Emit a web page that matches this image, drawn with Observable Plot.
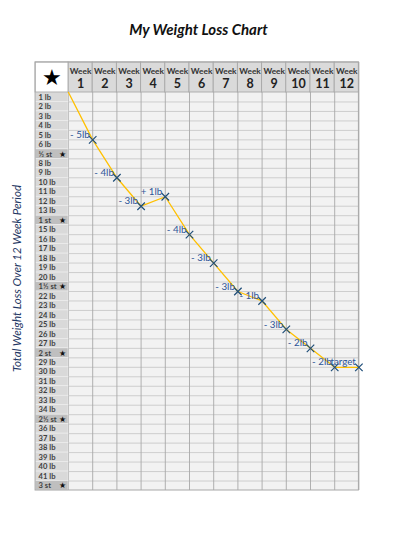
<!DOCTYPE html>
<html>
<head>
<meta charset="utf-8">
<script src="https://cdn.jsdelivr.net/npm/d3@7"></script>
<script src="https://cdn.jsdelivr.net/npm/@observablehq/plot@0.6"></script>
<style>
  body { margin: 0; background: #fff; }
</style>
</head>
<body>
<div id="chart"></div>
<script>
const title = "My Weight Loss Chart";
const sideLabel = "Total Weight Loss Over 12 Week Period";
const weeks = [1, 2, 3, 4, 5, 6, 7, 8, 9, 10, 11, 12];
const cumulativeLoss = [5, 9, 12, 11, 15, 18, 21, 22, 25, 27, 29, 29];
const changeLabels = ["- 5lb", "- 4lb", "- 3lb", "+ 1lb", "- 4lb", "- 3lb", "- 3lb", "- 1lb", "- 3lb", "- 2lb", "- 2lb", "target"];
const rowLabels = [
  "1 lb", "2 lb", "3 lb", "4 lb", "5 lb", "6 lb", "½ st",
  "8 lb", "9 lb", "10 lb", "11 lb", "12 lb", "13 lb", "1 st",
  "15 lb", "16 lb", "17 lb", "18 lb", "19 lb", "20 lb", "1½ st",
  "22 lb", "23 lb", "24 lb", "25 lb", "26 lb", "27 lb", "2 st",
  "29 lb", "30 lb", "31 lb", "32 lb", "33 lb", "34 lb", "2½ st",
  "36 lb", "37 lb", "38 lb", "39 lb", "40 lb", "41 lb", "3 st"
];
const stoneRows = [7, 14, 21, 28, 35, 42];

const rows = rowLabels.map((label, i) => ({row: i + 1, label, stone: stoneRows.includes(i + 1)}));
const points = weeks.map((w, i) => ({week: w, loss: cumulativeLoss[i], label: changeLabels[i]}));
const lineData = [{week: 0, loss: 0}, ...points];

const LABEL_W = 1.36;   // label column width in week units
const HEADER_H = 3.17;  // header height in row units
const gridLine = "#a8a8a8";

const chart = Plot.plot({
  width: 396,
  height: 552,
  margin: 0,
  style: {fontFamily: "Lato, 'Open Sans', sans-serif", background: "#fff"},
  x: {type: "linear", domain: [0, 12], range: [68, 358.4], axis: null},
  y: {type: "linear", domain: [0, 42], range: [92, 490], axis: null},
  marks: [
    // title
    Plot.text([title], {frameAnchor: "top", lineAnchor: "middle", dy: 30, text: d => d,
      fontSize: 15, fontWeight: "bold", fontStyle: "italic", fill: "#111"}),
    // side label
    Plot.text([sideLabel], {frameAnchor: "left", textAnchor: "middle", dx: 17, dy: 2, rotate: -90, text: d => d,
      fontSize: 11.5, fontStyle: "italic", fill: "#1f3864"}),
    // cell background
    Plot.rect([0], {x1: () => 0, x2: () => 12, y1: () => 0, y2: () => 42, fill: "#f2f2f2"}),
    // horizontal grid lines
    Plot.ruleY(d3.range(1, 42), {x1: () => 0, x2: () => 12, y: d => d, stroke: "#c4c4c4", strokeWidth: 0.8}),
    // vertical grid lines
    Plot.ruleX(d3.range(0, 13), {x: d => d, y1: () => -HEADER_H, y2: () => 42, stroke: gridLine, strokeWidth: 0.9}),
    // row label column
    Plot.rect(rows, {x1: () => -LABEL_W, x2: () => 0, y1: d => d.row - 1, y2: d => d.row,
      fill: d => d.stone ? "#bfbfbf" : "#d9d9d9", stroke: "#efefef", strokeWidth: 0.6}),
    Plot.text(rows, {x: () => -LABEL_W, y: d => d.row - 0.5, text: "label", textAnchor: "start", dx: 3,
      fontSize: 7.6, fontWeight: "bold", fill: "#3f3f3f"}),
    Plot.text(rows.filter(d => d.stone), {x: () => 0, y: d => d.row - 0.5, text: () => "★", dx: -6,
      fontSize: 7.5, fill: "#111"}),
    // header cells
    Plot.rect(weeks, {x1: d => d - 1, x2: d => d, y1: () => -HEADER_H, y2: () => 0,
      fill: "#dadada", stroke: gridLine, strokeWidth: 0.9}),
    Plot.text(weeks, {x: d => d - 0.5, y: () => -HEADER_H, dy: 9, text: () => "Week",
      fontSize: 8.3, fontWeight: "bold", fill: "#333"}),
    Plot.text(weeks, {x: d => d - 0.5, y: () => -HEADER_H, dy: 22, text: d => String(d),
      fontSize: 12.5, fontWeight: "bold", fill: "#222"}),
    // corner cell
    Plot.rect([0], {x1: () => -LABEL_W, x2: () => 0, y1: () => -HEADER_H, y2: () => 0,
      fill: "#fff", stroke: gridLine, strokeWidth: 0.9}),
    Plot.text(["★"], {x: () => -LABEL_W / 2, y: () => -HEADER_H / 2, text: d => d, fontSize: 22, fill: "#000"}),
    // outer border
    Plot.rect([0], {x1: () => -LABEL_W, x2: () => 12, y1: () => -HEADER_H, y2: () => 42,
      fill: "none", stroke: gridLine, strokeWidth: 1}),
    // data line
    Plot.line(lineData, {x: "week", y: "loss", stroke: "#ffc000", strokeWidth: 1.3}),
    Plot.dot(points, {x: "week", y: "loss", symbol: "times", r: 3.5, stroke: "#1f4e79", strokeWidth: 1.2}),
    Plot.text(points, {x: "week", y: "loss", text: "label", textAnchor: "end", dx: -3, dy: -5,
      fontSize: 9.8, fill: "#2e5597"})
  ]
});
document.getElementById("chart").appendChild(chart);
</script>
</body>
</html>
